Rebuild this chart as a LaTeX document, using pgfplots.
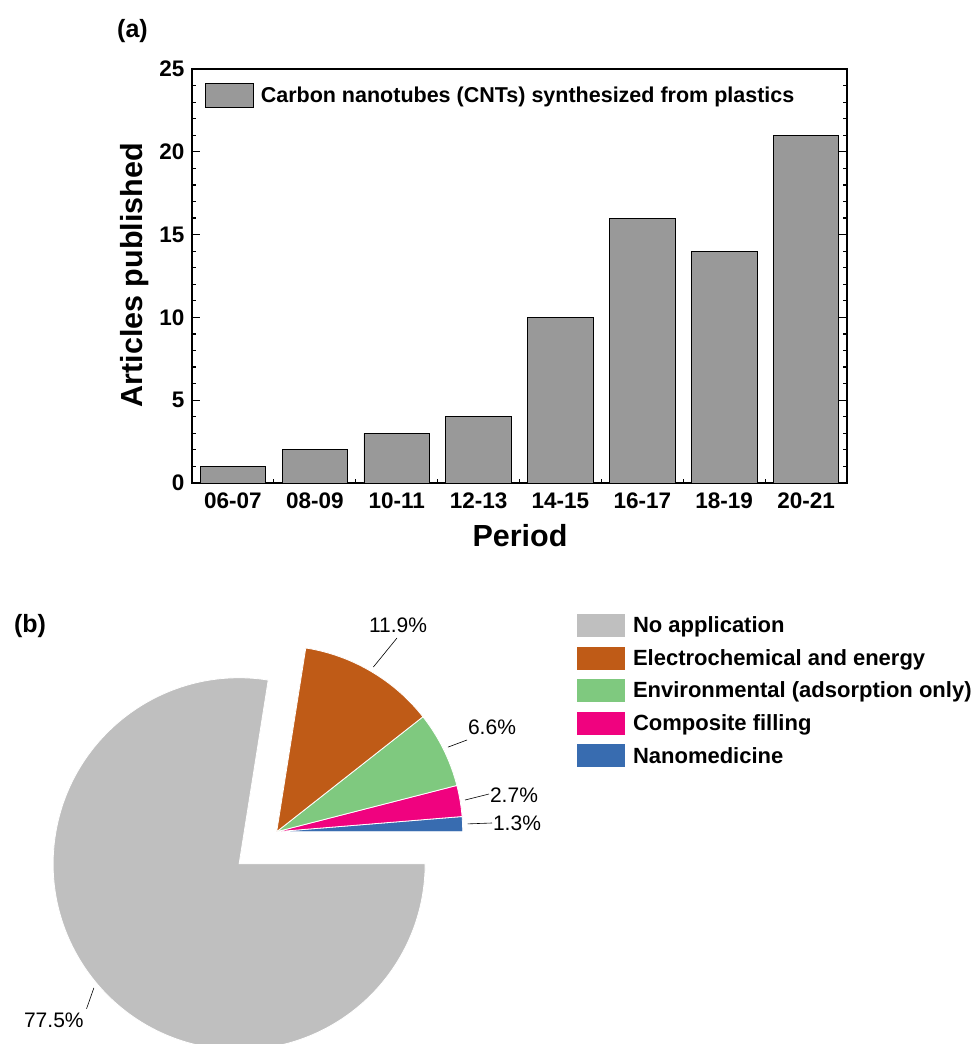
\documentclass[border=0pt]{standalone}
\usepackage{fontspec}
\setmainfont{Liberation Sans}
\usepackage{pgfplots}
\usepackage{pgfplotstable}
\pgfplotsset{compat=1.18}

\definecolor{barGray}{HTML}{999999}
\definecolor{cNone}{HTML}{BFBFBF}
\definecolor{cElec}{HTML}{BF5B17}
\definecolor{cEnv}{HTML}{7FC97F}
\definecolor{cComp}{HTML}{F0027F}
\definecolor{cNano}{HTML}{386CB0}

% Articles per two-year period
\pgfplotstableread{
period count
06-07 1
08-09 2
10-11 3
12-13 4
14-15 10
16-17 16
18-19 14
20-21 21
}\bardata

% Share of applications (%), slices counter-clockwise from 0 deg;
% explode = radial offset, (bx,by) leader end, (tx,ty) label centre
\pgfplotstableread{
value color explode bx by tx ty
1.3 cNano 0 215.3 8.7 240.3 8.7
2.7 cComp 0 212.3 37.7 237.3 36.7
6.6 cEnv 0 190.3 91.7 215.3 104.7
11.9 cElec 0 120.3 193.7 121.3 206.7
77.5 cNone 49.4 -152.6 -145 -185.3 -157
}\piedata

\begin{document}
\begin{tikzpicture}
\useasboundingbox (0,0) rectangle (979pt,1044pt);
\clip (0,0) rectangle (979pt,1044pt);

\node[font=\bfseries\fontsize{25}{30}\selectfont] at (132.5pt,1013.2pt) {(a)};
\node[font=\bfseries\fontsize{25}{30}\selectfont] at (30pt,418pt) {(b)};

% (a) bar chart
\begin{axis}[
  at={(192pt,561pt)}, anchor=south west,
  scale only axis, width=655pt, height=414pt,
  xmin=-0.5, xmax=7.5, ymin=0, ymax=25,
  ybar, bar width=0.8,
  xtick={0,...,7}, xticklabels from table={\bardata}{period},
  minor xtick={0.5,1.5,...,6.5},
  ytick={0,5,...,25}, minor y tick num=4,
  tick align=inside, xtick pos=left, ytick pos=both,
  major tick length=8pt, minor tick length=4pt,
  major x tick style={draw=none},
  axis line style={line width=1.2pt},
  every tick/.append style={black, line width=1.2pt},
  ticklabel style={font=\bfseries\fontsize{22.5}{27}\selectfont},
  xticklabel style={yshift=-6pt},
  yticklabel style={xshift=-4pt},
  /pgf/number format/assume math mode=true,
  xlabel={Period}, ylabel={Articles published},
  every axis x label/.style={at={(axis description cs:0.5008,-0.1275)}, anchor=center,
    font=\bfseries\fontsize{30.5}{36}\selectfont},
  every axis y label/.style={at={(axis description cs:-0.087,0.502)}, rotate=90, anchor=center,
    font=\bfseries\fontsize{30.5}{36}\selectfont},
  legend image code/.code={\draw[#1] (0pt,-12pt) rectangle (48pt,12pt);},
  legend cell align=left,
  legend style={draw=none, fill=none, at={(0.0198,0.966)}, anchor=north west,
    inner sep=0pt, outer sep=0pt, column sep=7pt, nodes={inner sep=0pt},
    font=\bfseries\fontsize{21.5}{26}\selectfont},
]
\addplot[fill=barGray, draw=black, line width=0.8pt]
  table[x expr=\coordindex, y=count] {\bardata};
\addlegendentry{Carbon nanotubes (CNTs) synthesized from plastics}
\end{axis}

% (b) pie chart, 1 axis unit = 1pt, origin at the pie centre
\begin{axis}[
  at={(-23.3pt,-87.7pt)}, anchor=south west,
  x=1pt, y=1pt, xmin=-300, xmax=700, ymin=-300, ymax=300,
  hide axis, clip=false,
  legend image code/.code={\fill[#1] (0pt,-11.5pt) rectangle (48pt,11.5pt);},
  legend cell align=left,
  legend style={draw=none, fill=none, at={(0.6003,0.8628)}, anchor=north west,
    inner sep=0pt, outer sep=0pt, row sep=9.6pt, column sep=8pt,
    nodes={inner sep=0pt},
    font=\bfseries\fontsize{22}{26}\selectfont},
]
\addlegendimage{fill=cNone, draw=none}
\addlegendimage{fill=cElec, draw=none}
\addlegendimage{fill=cEnv, draw=none}
\addlegendimage{fill=cComp, draw=none}
\addlegendimage{fill=cNano, draw=none}
\legend{No application, Electrochemical and energy, Environmental (adsorption only), Composite filling, Nanomedicine}
\pgfplotsextra{%
  \gdef\cum{0}%
  \pgfplotstableforeachcolumnelement{value}\of\piedata\as\val{%
    \pgfplotstablegetelem{\pgfplotstablerow}{color}\of\piedata \edef\col{\pgfplotsretval}%
    \pgfplotstablegetelem{\pgfplotstablerow}{explode}\of\piedata \edef\ex{\pgfplotsretval}%
    \pgfplotstablegetelem{\pgfplotstablerow}{bx}\of\piedata \edef\bx{\pgfplotsretval}%
    \pgfplotstablegetelem{\pgfplotstablerow}{by}\of\piedata \edef\by{\pgfplotsretval}%
    \pgfplotstablegetelem{\pgfplotstablerow}{tx}\of\piedata \edef\tx{\pgfplotsretval}%
    \pgfplotstablegetelem{\pgfplotstablerow}{ty}\of\piedata \edef\ty{\pgfplotsretval}%
    \pgfmathsetmacro\sa{3.6*\cum}%
    \pgfmathsetmacro\ea{3.6*(\cum+\val)}%
    \pgfmathsetmacro\ma{(\sa+\ea)/2}%
    \pgfmathsetmacro\ox{\ex*cos(\ma)}%
    \pgfmathsetmacro\oy{\ex*sin(\ma)}%
    \pgfmathsetmacro\sx{\ox+191*cos(\ma)}%
    \pgfmathsetmacro\sy{\oy+191*sin(\ma)}%
    \fill[\col, draw=white, line width=0.8pt] (axis cs:\ox,\oy) -- ++(\sa:186pt)
      arc[start angle=\sa, end angle=\ea, radius=186pt] -- cycle;
    \draw[line width=0.6pt] (axis cs:\sx,\sy) -- (axis cs:{\ox+\bx},{\oy+\by});
    \node[font=\fontsize{21}{25}\selectfont] at (axis cs:{\ox+\tx},{\oy+\ty})
      {\pgfmathprintnumber[fixed,fixed zerofill,precision=1,assume math mode=true]{\val}\%};
    \pgfmathsetmacro\newcum{\cum+\val}\global\let\cum\newcum
  }%
}
\end{axis}
\end{tikzpicture}
\end{document}
